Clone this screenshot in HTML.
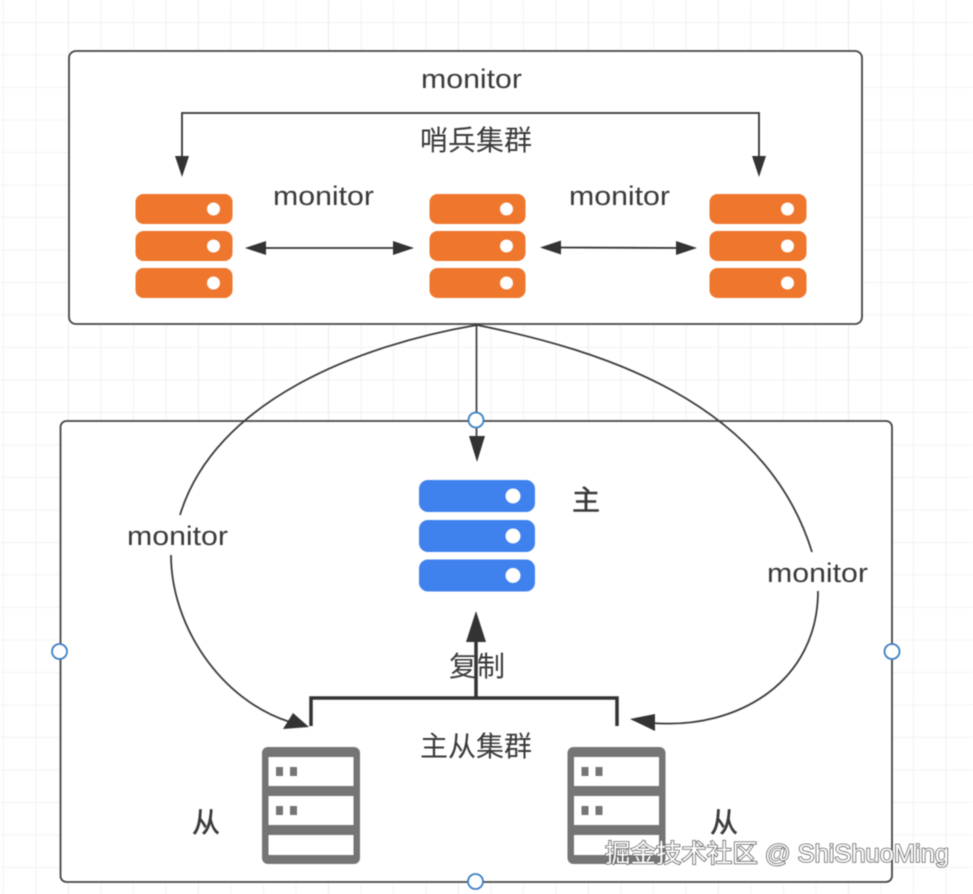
<!DOCTYPE html>
<html><head><meta charset="utf-8"><style>
html,body{margin:0;padding:0;background:#fff;overflow:hidden}
svg{display:block;filter:blur(.45px)}
text{font-family:"Liberation Sans","Noto Sans CJK SC",sans-serif;fill:#3a3a3a}
</style></head><body>
<svg width="973" height="894" viewBox="0 0 973 894" xmlns="http://www.w3.org/2000/svg">
<defs>
<pattern id="g" x="3" y="22" width="32.5" height="32.5" patternUnits="userSpaceOnUse">
<path d="M0 0V32.5M0 0H32.5" stroke="#f0f0f0" stroke-width="1.6" fill="none"/>
</pattern>
<pattern id="gm" x="68" y="0" width="130" height="894" patternUnits="userSpaceOnUse">
<path d="M0 0V894" stroke="#ebebeb" stroke-width="1.8" fill="none"/>
</pattern>
<g id="o"><rect x="0" y="0" width="97" height="30" rx="8" fill="#ee762d"/><circle cx="78" cy="15" r="6.5" fill="#fff"/></g>
<g id="om"><rect x="0" y="0" width="96" height="30" rx="8" fill="#ee762d"/><circle cx="77" cy="15" r="6.5" fill="#fff"/></g>
<g id="b"><rect x="0" y="0" width="116" height="32" rx="9" fill="#3f82ee"/><circle cx="94" cy="16" r="7.5" fill="#fff"/></g>
<g id="srv">
<rect x="0" y="0" width="98" height="117" rx="6" fill="#757575"/>
<rect x="6.500" y="10" width="85" height="29" fill="#fff"/>
<rect x="6.500" y="49" width="85" height="29" fill="#fff"/>
<rect x="6.500" y="88" width="85" height="20" fill="#fff"/>
<rect x="14" y="20" width="7" height="9" fill="#757575"/><rect x="28" y="20" width="7" height="9" fill="#757575"/>
<rect x="14" y="59" width="7" height="9" fill="#757575"/><rect x="28" y="59" width="7" height="9" fill="#757575"/>
</g>
</defs>
<rect width="973" height="894" fill="#fff"/>
<rect width="973" height="894" fill="url(#g)"/>
<rect width="973" height="894" fill="url(#gm)"/>

<rect x="69" y="51" width="793" height="273" rx="7" fill="#fff" stroke="#444" stroke-width="1.8"/>
<rect x="60.500" y="421" width="831.500" height="461" rx="6" fill="#fff" stroke="#444" stroke-width="1.8"/>

<!-- top connector -->
<path d="M182 158V113H759V158" fill="none" stroke="#333" stroke-width="1.8"/>
<polygon points="175,156 189,156 182,177" fill="#333"/>
<polygon points="752,156 766,156 759,177" fill="#333"/>

<!-- orange servers -->
<use href="#o" x="135.500" y="194"/><use href="#o" x="135.500" y="231"/><use href="#o" x="135.500" y="268"/>
<use href="#om" x="429.500" y="194"/><use href="#om" x="429.500" y="231"/><use href="#om" x="429.500" y="268"/>
<use href="#o" x="709.500" y="194"/><use href="#o" x="709.500" y="231"/><use href="#o" x="709.500" y="268"/>

<!-- double arrows -->
<path d="M260 248H400" stroke="#333" stroke-width="1.8"/>
<polygon points="245,248 266,241 266,255" fill="#333"/>
<polygon points="414,248 393,241 393,255" fill="#333"/>
<path d="M555 247.500L682 248" stroke="#333" stroke-width="1.8"/>
<polygon points="540,247.500 561,240.500 561,254.500" fill="#333"/>
<polygon points="697,248 676,241 676,255" fill="#333"/>

<!-- curves -->
<path d="M477 325C360 345 215 400 180 515" fill="none" stroke="#3a3a3a" stroke-width="1.8"/>
<path d="M171 555C171 625 220 700 290 722" fill="none" stroke="#3a3a3a" stroke-width="1.8"/>
<polygon points="309,727 283,729 293,713" fill="#333"/>
<path d="M477 325C600 350 765 400 812 552" fill="none" stroke="#3a3a3a" stroke-width="1.8"/>
<path d="M818 591C818 680 740 730 652 723" fill="none" stroke="#3a3a3a" stroke-width="1.8"/>
<polygon points="630,719 655,714 655,731" fill="#333"/>
<path d="M476.500 326V440" stroke="#444" stroke-width="1.8"/>
<polygon points="469,436 485,436 477,462" fill="#333"/>

<!-- blue server -->
<use href="#b" x="419" y="480"/><use href="#b" x="419" y="520"/><use href="#b" x="419" y="559.500"/>

<!-- replication -->
<path d="M311 726V698H617V726" fill="none" stroke="#333" stroke-width="3.500"/>
<path d="M476 698V640" stroke="#333" stroke-width="3.500"/>
<polygon points="466,642 486,642 476,611" fill="#333"/>

<!-- slave servers -->
<use href="#srv" x="262" y="747"/>
<use href="#srv" x="567.500" y="747"/>

<!-- handles -->
<g fill="#fff" stroke="#3d7fc4" stroke-width="1.800">
<circle cx="476" cy="420" r="7.500"/><circle cx="59.500" cy="651.500" r="7.500"/><circle cx="892" cy="651.500" r="7.500"/><circle cx="475.500" cy="881.500" r="7.500"/>
</g>

<!-- labels -->
<g font-size="26.500" lengthAdjust="spacingAndGlyphs">
<text x="421" y="88" textLength="101" lengthAdjust="spacingAndGlyphs">monitor</text>
<text x="273" y="205" textLength="101" lengthAdjust="spacingAndGlyphs">monitor</text>
<text x="569" y="205" textLength="101" lengthAdjust="spacingAndGlyphs">monitor</text>
<text x="127" y="545" textLength="101" lengthAdjust="spacingAndGlyphs">monitor</text>
<text x="767" y="582" textLength="101" lengthAdjust="spacingAndGlyphs">monitor</text>
</g>
<g font-size="28">
<text x="420" y="150">哨兵集群</text>
<text x="420" y="756">主从集群</text>
<text x="449" y="676">复制</text>
<text x="572" y="510" style="stroke:#3a3a3a;stroke-width:.5px">主</text>
<text x="192" y="832" style="stroke:#3a3a3a;stroke-width:.5px">从</text>
<text x="710" y="832" style="stroke:#3a3a3a;stroke-width:.5px">从</text>
</g>
<text x="605" y="862" font-size="25" textLength="344" lengthAdjust="spacingAndGlyphs" style="fill:#fff;stroke:#666;stroke-width:1.6px;paint-order:stroke">掘金技术社区 @ ShiShuoMing</text>
</svg>
</body></html>
